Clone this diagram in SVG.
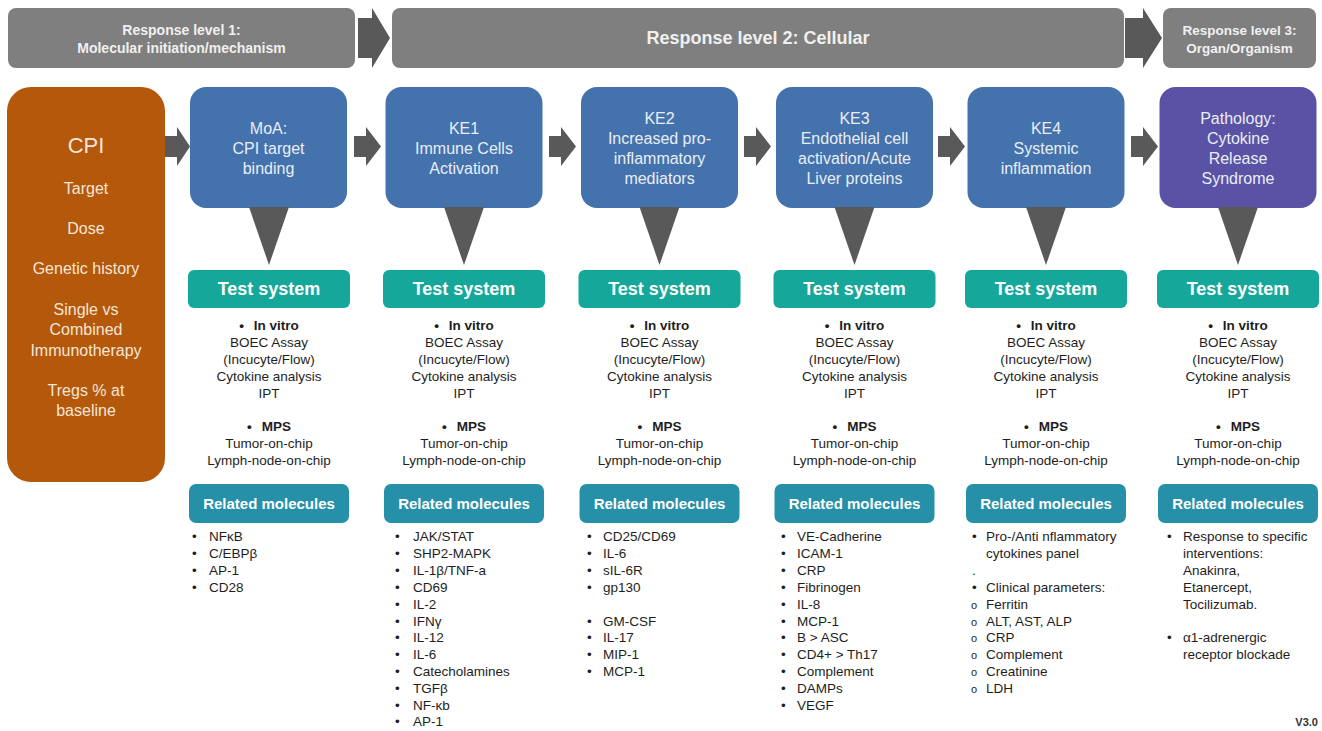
<svg xmlns="http://www.w3.org/2000/svg" width="1322" height="731" viewBox="0 0 1322 731">
<style>
text{font-family:"Liberation Sans",Arial,sans-serif;}
.banner{fill:#7f7f7f;}
.btxt{fill:#f0f0f0;font-weight:bold;text-anchor:middle;}
.arr{fill:#595959;}
.ke{fill:#4472ad;}
.path{fill:#5a52a5;}
.ktxt{fill:#e9eef6;font-size:16px;text-anchor:middle;}
.call{fill:#595959;}
.ts{fill:#16a79b;}
.tstxt{fill:#ffffff;font-size:18px;font-weight:bold;text-anchor:middle;}
.rm{fill:#2690a8;}
.rmtxt{fill:#ffffff;font-size:15px;font-weight:bold;text-anchor:middle;}
.body{fill:#1e1e1e;font-size:13.5px;text-anchor:middle;}
.bold{font-weight:bold;}
.li{fill:#1e1e1e;font-size:13.5px;}
.cpi{fill:#b4580b;}
.ctxt{fill:#f5e6d6;font-size:16px;text-anchor:middle;}
.big{font-size:22px;}
</style>

<!-- Banners -->
<g id="level1">
<rect class="banner" x="8" y="8" width="347" height="60" rx="8"/>
<text class="btxt" x="181.5" y="35" font-size="14">Response level 1:</text>
<text class="btxt" x="181.5" y="53" font-size="14">Molecular initiation/mechanism</text>
</g>
<g id="level2">
<rect class="banner" x="392" y="8" width="732" height="60" rx="8"/>
<text class="btxt" x="758" y="44" font-size="18">Response level 2: Cellular</text>
</g>
<g id="level3">
<rect class="banner" x="1163" y="8" width="153" height="60" rx="8"/>
<text class="btxt" x="1239.5" y="35" font-size="13.5">Response level 3:</text>
<text class="btxt" x="1239.5" y="53" font-size="13.5">Organ/Organism</text>
</g>

<!-- CPI -->
<g id="cpi">
<rect class="cpi" x="7" y="87" width="158" height="395" rx="24"/>
<text class="ctxt big" x="86" y="153">CPI</text>
<text class="ctxt" x="86" y="194">Target</text>
<text class="ctxt" x="86" y="234">Dose</text>
<text class="ctxt" x="86" y="274">Genetic history</text>
<text class="ctxt" x="86" y="315">Single vs</text>
<text class="ctxt" x="86" y="335">Combined</text>
<text class="ctxt" x="86" y="356">Immunotherapy</text>
<text class="ctxt" x="86" y="396">Tregs % at</text>
<text class="ctxt" x="86" y="416">baseline</text>
</g>

<!-- Connectors -->
<g id="connectors">
<polygon class="arr" points="358,18 372,18 372,8 390,38 372,68 372,58 358,58"/>
<polygon class="arr" points="1125,18 1143,18 1143,8 1162,38 1143,68 1143,58 1125,58"/>
<polygon class="arr" points="165,136 177,136 177,127 190,146.5 177,166 177,157 165,157"/>
<polygon class="arr" points="354,136 366,136 366,127 381,146.5 366,166 366,157 354,157"/>
<polygon class="arr" points="549,136 561,136 561,127 576,146.5 561,166 561,157 549,157"/>
<polygon class="arr" points="744,136 756,136 756,127 771,146.5 756,166 756,157 744,157"/>
<polygon class="arr" points="938,136 950,136 950,127 965,146.5 950,166 950,157 938,157"/>
<polygon class="arr" points="1131,136 1143,136 1143,127 1158,146.5 1143,166 1143,157 1131,157"/>
</g>

<!-- MoA -->
<g id="moa">
<rect class="ke" x="190" y="87" width="157" height="121" rx="16"/>
<polygon class="call" points="249,207 289,207 269,265"/>
<text class="ktxt" x="268.5" y="134">MoA:</text>
<text class="ktxt" x="268.5" y="154">CPI target</text>
<text class="ktxt" x="268.5" y="174">binding</text>
<rect class="ts" x="188" y="270" width="162" height="38" rx="6"/>
<text class="tstxt" x="269" y="295">Test system</text>
<text class="body bold" x="269" y="330">•<tspan dx="10">In vitro</tspan></text>
<text class="body" x="269" y="347">BOEC Assay</text>
<text class="body" x="269" y="364">(Incucyte/Flow)</text>
<text class="body" x="269" y="381">Cytokine analysis</text>
<text class="body" x="269" y="398">IPT</text>
<text class="body bold" x="269" y="431">•<tspan dx="10">MPS</tspan></text>
<text class="body" x="269" y="448">Tumor-on-chip</text>
<text class="body" x="269" y="465">Lymph-node-on-chip</text>
<rect class="rm" x="189" y="484" width="160" height="39" rx="7"/>
<text class="rmtxt" x="269" y="508.5">Related molecules</text>
<g class="li">
<text x="192" y="541">•</text><text x="209" y="541">NFκB</text>
<text x="192" y="558">•</text><text x="209" y="558">C/EBPβ</text>
<text x="192" y="575">•</text><text x="209" y="575">AP-1</text>
<text x="192" y="592">•</text><text x="209" y="592">CD28</text>
</g>
</g>

<!-- KE1 -->
<g id="ke1">
<rect class="ke" x="385.5" y="87" width="157" height="121" rx="16"/>
<polygon class="call" points="444,207 484,207 464,265"/>
<text class="ktxt" x="464" y="134">KE1</text>
<text class="ktxt" x="464" y="154">Immune Cells</text>
<text class="ktxt" x="464" y="174">Activation</text>
<rect class="ts" x="383" y="270" width="162" height="38" rx="6"/>
<text class="tstxt" x="464" y="295">Test system</text>
<text class="body bold" x="464" y="330">•<tspan dx="10">In vitro</tspan></text>
<text class="body" x="464" y="347">BOEC Assay</text>
<text class="body" x="464" y="364">(Incucyte/Flow)</text>
<text class="body" x="464" y="381">Cytokine analysis</text>
<text class="body" x="464" y="398">IPT</text>
<text class="body bold" x="464" y="431">•<tspan dx="10">MPS</tspan></text>
<text class="body" x="464" y="448">Tumor-on-chip</text>
<text class="body" x="464" y="465">Lymph-node-on-chip</text>
<rect class="rm" x="384" y="484" width="160" height="39" rx="7"/>
<text class="rmtxt" x="464" y="508.5">Related molecules</text>
<g class="li">
<text x="395" y="541">•</text><text x="413" y="541">JAK/STAT</text>
<text x="395" y="558">•</text><text x="413" y="558">SHP2-MAPK</text>
<text x="395" y="575">•</text><text x="413" y="575">IL-1β/TNF-a</text>
<text x="395" y="592">•</text><text x="413" y="592">CD69</text>
<text x="395" y="609">•</text><text x="413" y="609">IL-2</text>
<text x="395" y="626">•</text><text x="413" y="626">IFNγ</text>
<text x="395" y="642">•</text><text x="413" y="642">IL-12</text>
<text x="395" y="659">•</text><text x="413" y="659">IL-6</text>
<text x="395" y="676">•</text><text x="413" y="676">Catecholamines</text>
<text x="395" y="693">•</text><text x="413" y="693">TGFβ</text>
<text x="395" y="710">•</text><text x="413" y="710">NF-κb</text>
<text x="395" y="726">•</text><text x="413" y="726">AP-1</text>
</g>
</g>

<!-- KE2 -->
<g id="ke2">
<rect class="ke" x="581" y="87" width="157" height="121" rx="16"/>
<polygon class="call" points="639.5,207 679.5,207 659.5,265"/>
<text class="ktxt" x="659.5" y="124">KE2</text>
<text class="ktxt" x="659.5" y="144">Increased pro-</text>
<text class="ktxt" x="659.5" y="164">inflammatory</text>
<text class="ktxt" x="659.5" y="184">mediators</text>
<rect class="ts" x="578.5" y="270" width="162" height="38" rx="6"/>
<text class="tstxt" x="659.5" y="295">Test system</text>
<text class="body bold" x="659.5" y="330">•<tspan dx="10">In vitro</tspan></text>
<text class="body" x="659.5" y="347">BOEC Assay</text>
<text class="body" x="659.5" y="364">(Incucyte/Flow)</text>
<text class="body" x="659.5" y="381">Cytokine analysis</text>
<text class="body" x="659.5" y="398">IPT</text>
<text class="body bold" x="659.5" y="431">•<tspan dx="10">MPS</tspan></text>
<text class="body" x="659.5" y="448">Tumor-on-chip</text>
<text class="body" x="659.5" y="465">Lymph-node-on-chip</text>
<rect class="rm" x="579.5" y="484" width="160" height="39" rx="7"/>
<text class="rmtxt" x="659.5" y="508.5">Related molecules</text>
<g class="li">
<text x="587" y="541">•</text><text x="603" y="541">CD25/CD69</text>
<text x="587" y="558">•</text><text x="603" y="558">IL-6</text>
<text x="587" y="575">•</text><text x="603" y="575">sIL-6R</text>
<text x="587" y="592">•</text><text x="603" y="592">gp130</text>
<text x="587" y="626">•</text><text x="603" y="626">GM-CSF</text>
<text x="587" y="642">•</text><text x="603" y="642">IL-17</text>
<text x="587" y="659">•</text><text x="603" y="659">MIP-1</text>
<text x="587" y="676">•</text><text x="603" y="676">MCP-1</text>
</g>
</g>

<!-- KE3 -->
<g id="ke3">
<rect class="ke" x="776" y="87" width="157" height="121" rx="16"/>
<polygon class="call" points="834.5,207 874.5,207 854.5,265"/>
<text class="ktxt" x="854.5" y="124">KE3</text>
<text class="ktxt" x="854.5" y="144">Endothelial cell</text>
<text class="ktxt" x="854.5" y="164">activation/Acute</text>
<text class="ktxt" x="854.5" y="184">Liver proteins</text>
<rect class="ts" x="773.5" y="270" width="162" height="38" rx="6"/>
<text class="tstxt" x="854.5" y="295">Test system</text>
<text class="body bold" x="854.5" y="330">•<tspan dx="10">In vitro</tspan></text>
<text class="body" x="854.5" y="347">BOEC Assay</text>
<text class="body" x="854.5" y="364">(Incucyte/Flow)</text>
<text class="body" x="854.5" y="381">Cytokine analysis</text>
<text class="body" x="854.5" y="398">IPT</text>
<text class="body bold" x="854.5" y="431">•<tspan dx="10">MPS</tspan></text>
<text class="body" x="854.5" y="448">Tumor-on-chip</text>
<text class="body" x="854.5" y="465">Lymph-node-on-chip</text>
<rect class="rm" x="774.5" y="484" width="160" height="39" rx="7"/>
<text class="rmtxt" x="854.5" y="508.5">Related molecules</text>
<g class="li">
<text x="781" y="541">•</text><text x="797" y="541">VE-Cadherine</text>
<text x="781" y="558">•</text><text x="797" y="558">ICAM-1</text>
<text x="781" y="575">•</text><text x="797" y="575">CRP</text>
<text x="781" y="592">•</text><text x="797" y="592">Fibrinogen</text>
<text x="781" y="609">•</text><text x="797" y="609">IL-8</text>
<text x="781" y="626">•</text><text x="797" y="626">MCP-1</text>
<text x="781" y="642">•</text><text x="797" y="642">B &gt; ASC</text>
<text x="781" y="659">•</text><text x="797" y="659">CD4+ &gt; Th17</text>
<text x="781" y="676">•</text><text x="797" y="676">Complement</text>
<text x="781" y="693">•</text><text x="797" y="693">DAMPs</text>
<text x="781" y="710">•</text><text x="797" y="710">VEGF</text>
</g>
</g>

<!-- KE4 -->
<g id="ke4">
<rect class="ke" x="967.5" y="87" width="157" height="121" rx="16"/>
<polygon class="call" points="1026,207 1066,207 1046,265"/>
<text class="ktxt" x="1046" y="134">KE4</text>
<text class="ktxt" x="1046" y="154">Systemic</text>
<text class="ktxt" x="1046" y="174">inflammation</text>
<rect class="ts" x="965" y="270" width="162" height="38" rx="6"/>
<text class="tstxt" x="1046" y="295">Test system</text>
<text class="body bold" x="1046" y="330">•<tspan dx="10">In vitro</tspan></text>
<text class="body" x="1046" y="347">BOEC Assay</text>
<text class="body" x="1046" y="364">(Incucyte/Flow)</text>
<text class="body" x="1046" y="381">Cytokine analysis</text>
<text class="body" x="1046" y="398">IPT</text>
<text class="body bold" x="1046" y="431">•<tspan dx="10">MPS</tspan></text>
<text class="body" x="1046" y="448">Tumor-on-chip</text>
<text class="body" x="1046" y="465">Lymph-node-on-chip</text>
<rect class="rm" x="966" y="484" width="160" height="39" rx="7"/>
<text class="rmtxt" x="1046" y="508.5">Related molecules</text>
<g class="li">
<text x="972" y="541">•</text><text x="986" y="541">Pro-/Anti nflammatory</text>
<text x="986" y="558">cytokines panel</text>
<text x="972" y="575">.</text>
<text x="972" y="592">•</text><text x="986" y="592">Clinical parameters:</text>
<text x="971" y="609" font-size="11">o</text><text x="986" y="609">Ferritin</text>
<text x="971" y="626" font-size="11">o</text><text x="986" y="626">ALT, AST, ALP</text>
<text x="971" y="642" font-size="11">o</text><text x="986" y="642">CRP</text>
<text x="971" y="659" font-size="11">o</text><text x="986" y="659">Complement</text>
<text x="971" y="676" font-size="11">o</text><text x="986" y="676">Creatinine</text>
<text x="971" y="693" font-size="11">o</text><text x="986" y="693">LDH</text>
</g>
</g>

<!-- Pathology -->
<g id="pathology">
<rect class="path" x="1159.5" y="87" width="157" height="121" rx="16"/>
<polygon class="call" points="1218,207 1258,207 1238,265"/>
<text class="ktxt" x="1238" y="124">Pathology:</text>
<text class="ktxt" x="1238" y="144">Cytokine</text>
<text class="ktxt" x="1238" y="164">Release</text>
<text class="ktxt" x="1238" y="184">Syndrome</text>
<rect class="ts" x="1157" y="270" width="162" height="38" rx="6"/>
<text class="tstxt" x="1238" y="295">Test system</text>
<text class="body bold" x="1238" y="330">•<tspan dx="10">In vitro</tspan></text>
<text class="body" x="1238" y="347">BOEC Assay</text>
<text class="body" x="1238" y="364">(Incucyte/Flow)</text>
<text class="body" x="1238" y="381">Cytokine analysis</text>
<text class="body" x="1238" y="398">IPT</text>
<text class="body bold" x="1238" y="431">•<tspan dx="10">MPS</tspan></text>
<text class="body" x="1238" y="448">Tumor-on-chip</text>
<text class="body" x="1238" y="465">Lymph-node-on-chip</text>
<rect class="rm" x="1158" y="484" width="160" height="39" rx="7"/>
<text class="rmtxt" x="1238" y="508.5">Related molecules</text>
<g class="li">
<text x="1167" y="541">•</text><text x="1183" y="541">Response to specific</text>
<text x="1183" y="558">interventions:</text>
<text x="1183" y="575">Anakinra,</text>
<text x="1183" y="592">Etanercept,</text>
<text x="1183" y="609">Tocilizumab.</text>
<text x="1167" y="642">•</text><text x="1183" y="642">α1-adrenergic</text>
<text x="1183" y="659">receptor blockade</text>
</g>
</g>

<text x="1318" y="726" font-size="11" font-weight="bold" fill="#333333" text-anchor="end">V3.0</text>
</svg>
